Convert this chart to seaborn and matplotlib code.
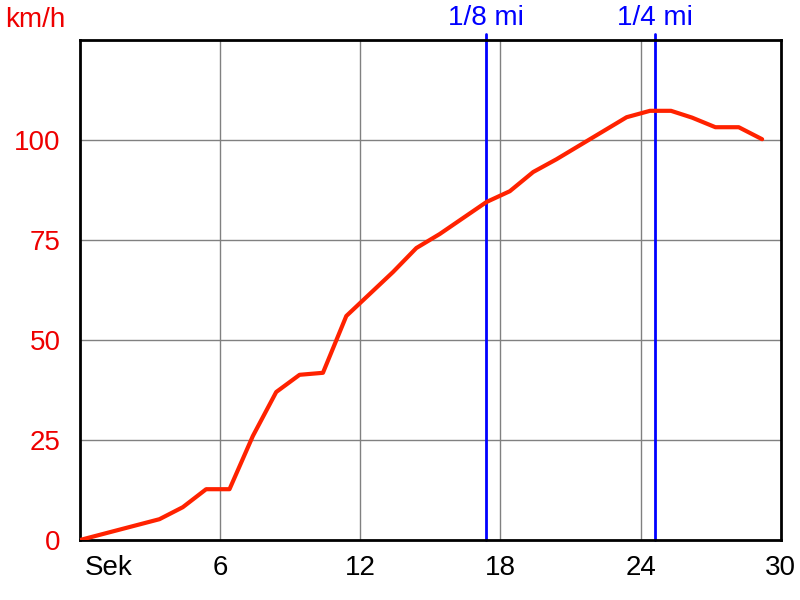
import numpy as np
import pandas as pd
import matplotlib
matplotlib.use("Agg")
import matplotlib.pyplot as plt
import matplotlib.transforms as mtransforms
import seaborn as sns

# speed run: time (s) vs speed (km/h)
sek = [0, 3.4, 4.4, 5.4, 6.4, 7.4, 8.4, 9.4, 10.4, 11.4, 12.4, 13.4, 14.4,
       15.4, 16.4, 17.4, 18.4, 19.4, 20.4, 21.4, 22.4, 23.4, 24.4, 25.3,
       26.2, 27.2, 28.2, 29.2]
kmh = [0, 5.2, 8.2, 12.7, 12.7, 26, 37, 41.3, 41.8, 56, 61.5, 67, 73,
       76.5, 80.5, 84.5, 87.2, 92, 95.2, 98.7, 102.2, 105.7, 107.3, 107.3,
       105.6, 103.2, 103.2, 100.2]
marks = [17.36, 24.6]
mark_labels = ["1/8 mi", "1/4 mi"]
x_ticks = [0, 6, 12, 18, 24, 30]
x_labels = ["Sek", "6", "12", "18", "24", "30"]
y_ticks = [0, 25, 50, 75, 100]

sns.set_style("white")
plt.rcParams["font.family"] = ["Liberation Sans", "DejaVu Sans"]

df = pd.DataFrame({"sek": sek, "kmh": kmh})

fig = plt.figure(figsize=(8, 6), dpi=100)
ax = fig.add_axes([0.1, 0.1, 0.876, 0.8333])

for x in x_ticks[1:-1]:
    ax.axvline(x, color="#808080", lw=1, zorder=0)
for y in y_ticks[1:]:
    ax.axhline(y, color="#808080", lw=1, zorder=0)

for x, lab in zip(marks, mark_labels):
    ax.axvline(x, ymin=0, ymax=1.012, color="#0000FF", lw=2, clip_on=False, zorder=2)
    ax.text(x, 1.018, lab, transform=ax.get_xaxis_transform(), ha="center",
            va="bottom", color="#0000FF", fontsize=20)

sns.lineplot(data=df, x="sek", y="kmh", color="#FF2200", lw=3, ax=ax, zorder=3)

ax.set_xlim(0, 30)
ax.set_ylim(0, 125)
ax.set_xticks(x_ticks)
ax.set_xticklabels(x_labels)
ax.set_yticks(y_ticks)
ax.set_xlabel("")
ax.set_ylabel("")
ax.tick_params(axis="x", colors="black", labelsize=20, length=6, width=2, direction="out", pad=5)
ax.tick_params(axis="y", labelcolor="#EE0000", labelsize=20, length=6, width=2, direction="out", color="black", pad=8)
sek_lab = ax.get_xticklabels()[0]
sek_lab.set_horizontalalignment("left")
sek_lab.set_transform(sek_lab.get_transform() + mtransforms.ScaledTranslation(5 / 100, 0, fig.dpi_scale_trans))
for s in ax.spines.values():
    s.set_color("black")
    s.set_linewidth(2)

fig.text(0.006, 0.945, "km/h", color="#EE0000", fontsize=20, ha="left", va="bottom")

fig.savefig("out.png", dpi=100, facecolor="white")
